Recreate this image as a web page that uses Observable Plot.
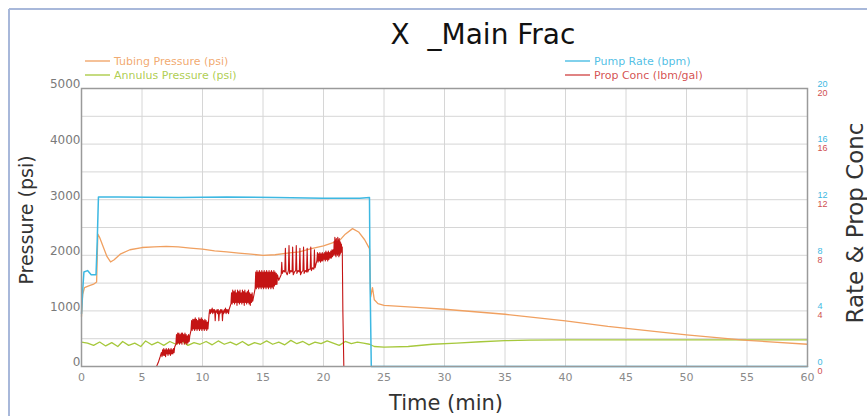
<!DOCTYPE html>
<html>
<head>
<meta charset="utf-8">
<script src="https://cdn.jsdelivr.net/npm/d3@7"></script>
<script src="https://cdn.jsdelivr.net/npm/@observablehq/plot@0.6"></script>
<style>
  html, body { margin: 0; padding: 0; background: #fff; }
  #chart { width: 867px; height: 416px; overflow: hidden; }
</style>
</head>
<body>
<div id="chart"></div>
<script>
// ---- data (time in minutes) ----
const xTicks = [0, 5, 10, 15, 20, 25, 30, 35, 40, 45, 50, 55, 60];
const yTicks = [0, 1000, 2000, 3000, 4000, 5000];
const yGrid = [0, 500, 1000, 1500, 2000, 2500, 3000, 3500, 4000, 4500, 5000];
const rTicks = [0, 4, 8, 12, 16, 20];

// Tubing Pressure (psi)
const tubing = [[0,900],[0.1,1300],[0.25,1420],[0.6,1450],[1.0,1480],[1.25,1520],[1.35,2380],[1.5,2320],[1.8,2150],[2.1,1980],[2.4,1880],[2.7,1920],[3.2,2020],[4,2100],[5,2140],[6,2150],[7,2160],[8,2150],[9,2130],[10,2110],[11,2080],[12,2060],[13,2040],[14,2020],[15,2000],[16,2010],[17,2040],[18,2060],[19,2120],[20,2170],[20.8,2230],[21.3,2260],[21.8,2380],[22.4,2480],[22.9,2420],[23.4,2280],[23.8,2120],[23.9,1250],[24.05,1420],[24.2,1200],[24.5,1130],[25,1100],[28,1060],[30,1030],[35,940],[40,820],[43.5,720],[50,570],[55,470],[60,400]];

// Annulus Pressure (psi)
const annulus = [[0,440],[0.5,420],[1.0,380],[1.5,440],[2.0,370],[2.5,430],[3.0,360],[3.4,450],[3.9,380],[4.4,420],[4.9,360],[5.3,460],[5.8,390],[6.3,440],[6.8,380],[7.3,450],[7.8,400],[8.3,460],[8.8,380],[9.3,430],[9.8,400],[10.3,450],[10.8,390],[11.3,460],[11.8,400],[12.3,440],[12.8,390],[13.3,450],[13.8,380],[14.3,430],[14.8,400],[15.3,460],[15.8,400],[16.3,440],[16.8,390],[17.3,470],[17.8,410],[18.3,450],[18.8,390],[19.3,440],[19.8,410],[20.3,460],[20.8,420],[21.3,380],[21.8,450],[22.3,410],[22.8,440],[23.3,420],[23.8,400],[24.2,360],[25,350],[27,360],[29,400],[31,420],[33,445],[35,465],[37,475],[40,480],[45,480],[50,480],[55,480],[60,480]];

// Pump Rate (bpm)
const pumpRate = [[0,3.8],[0.1,5.5],[0.2,6.8],[0.5,6.9],[0.8,6.6],[1.2,6.6],[1.3,9],[1.4,12.2],[3,12.2],[8,12.15],[12,12.2],[16,12.15],[20,12.1],[23.0,12.1],[23.8,12.15],[23.85,6],[23.95,0],[30,0],[60,0]];

// Prop Conc (lbm/gal)
const propConc = [[0,0],[6.2,0],[6.35,0.3],[6.5,0.7],
[6.6,1.0],[6.65,0.7],[6.7,1.2],[6.75,0.8],[6.8,1.3],[6.85,0.8],[6.9,1.2],[6.95,0.7],[7.0,1.3],[7.05,0.9],[7.1,1.2],[7.15,0.8],[7.2,1.3],[7.25,0.9],[7.3,1.2],[7.35,0.8],[7.4,1.3],[7.45,0.9],[7.5,1.2],[7.55,0.9],[7.6,1.3],[7.65,1.0],[7.7,1.4],
[7.8,1.6],[7.85,2.3],[7.9,1.6],[7.95,2.4],[8.0,1.7],[8.05,2.4],[8.1,1.6],[8.15,2.3],[8.2,1.7],[8.25,2.4],[8.3,1.6],[8.35,2.4],[8.4,1.8],[8.45,2.3],[8.5,1.6],[8.55,2.4],[8.6,1.7],[8.65,2.3],[8.7,1.6],[8.75,2.2],[8.8,1.7],[8.85,2.3],[8.9,1.8],[8.95,2.2],
[9.05,2.6],[9.1,3.3],[9.15,2.6],[9.2,3.4],[9.25,2.7],[9.3,3.4],[9.35,2.6],[9.4,3.5],[9.45,2.7],[9.5,3.4],[9.55,2.6],[9.6,3.3],[9.65,2.7],[9.7,3.5],[9.75,2.6],[9.8,3.4],[9.85,2.7],[9.9,3.5],[9.95,2.6],[10.0,3.4],[10.05,2.7],[10.1,3.3],[10.15,2.6],[10.2,3.4],[10.25,2.7],[10.3,3.3],[10.35,2.6],[10.4,3.2],[10.45,2.7],
[10.55,3.8],[10.6,4.1],[10.65,3.8],[10.7,4.1],[10.75,3.9],[10.8,4.2],[10.85,3.8],[10.9,4.1],[10.95,3.9],[11.0,4.1],[11.05,3.3],[11.1,4.0],[11.15,3.9],[11.2,4.1],[11.25,3.8],[11.3,4.1],[11.35,3.3],[11.4,4.0],[11.45,3.8],[11.5,4.1],[11.55,3.9],[11.6,4.1],[11.65,3.3],[11.7,4.0],[11.75,3.8],[11.8,4.1],[11.85,3.9],[11.9,4.2],[11.95,3.8],[12.0,4.1],[12.05,3.9],[12.1,4.1],[12.15,3.8],[12.2,4.1],
[12.35,4.5],[12.4,5.3],[12.45,4.5],[12.5,5.5],[12.55,4.6],[12.6,5.4],[12.65,4.5],[12.7,5.5],[12.75,4.6],[12.8,5.3],[12.85,4.4],[12.9,5.5],[12.95,4.6],[13.0,5.4],[13.05,4.5],[13.1,5.5],[13.15,4.6],[13.2,5.3],[13.25,4.5],[13.3,5.5],[13.35,4.6],[13.4,5.4],[13.45,4.4],[13.5,5.5],[13.55,4.6],[13.6,5.3],[13.65,4.5],[13.7,5.4],[13.75,4.6],[13.8,5.5],[13.85,4.5],[13.9,5.3],[13.95,4.4],[14.0,5.2],[14.05,4.6],[14.1,5.3],[14.15,4.7],
[14.35,5.6],[14.4,6.8],[14.45,5.6],[14.5,6.9],[14.55,5.7],[14.6,6.8],[14.65,5.6],[14.7,6.9],[14.75,5.7],[14.8,6.8],[14.85,5.6],[14.9,6.9],[14.95,5.7],[15.0,6.8],[15.05,5.6],[15.1,6.9],[15.15,5.7],[15.2,6.8],[15.25,5.6],[15.3,6.9],[15.35,5.7],[15.4,6.8],[15.45,5.6],[15.5,6.9],[15.55,5.7],[15.6,6.8],[15.65,5.6],[15.7,6.9],[15.75,5.7],[15.8,6.8],[15.85,5.6],[15.9,6.9],[15.95,5.8],[16.0,6.8],[16.05,5.9],[16.1,6.7],[16.15,5.9],[16.2,6.6],[16.3,6.2],[16.4,6.4],
[16.5,6.6],[16.55,7.5],[16.6,6.7],[16.7,6.9],[16.8,6.8],[16.85,8.5],[16.9,6.8],[17.0,6.6],[17.1,6.9],[17.15,8.7],[17.2,6.7],[17.3,6.9],[17.4,6.8],[17.45,8.6],[17.5,6.6],[17.6,6.8],[17.7,6.9],[17.75,8.7],[17.8,6.7],[17.9,6.9],[18.0,6.8],[18.05,8.5],[18.1,6.6],[18.2,6.8],[18.3,6.9],[18.35,8.6],[18.4,6.7],[18.5,6.9],[18.6,6.8],[18.65,8.5],[18.7,6.8],[18.8,7.0],[18.9,7.0],[18.95,8.6],[19.0,6.9],[19.1,7.1],[19.2,7.0],[19.25,8.4],[19.3,7.1],
[19.45,7.6],[19.5,8.2],[19.55,7.5],[19.6,8.1],[19.65,7.6],[19.7,8.2],[19.75,7.5],[19.8,8.1],[19.85,7.6],[19.9,8.2],[19.95,7.6],[20.0,8.1],[20.05,7.7],[20.1,8.2],[20.15,7.6],[20.2,8.3],[20.25,7.7],[20.3,8.2],[20.35,7.6],[20.4,8.3],[20.45,7.7],[20.5,8.2],[20.55,7.8],[20.6,8.3],[20.65,7.8],[20.7,8.4],[20.75,7.9],[20.8,8.4],
[20.85,8.0],[20.88,9.0],[20.91,8.1],[20.94,9.3],[20.97,8.0],[21.0,9.1],[21.03,7.9],[21.06,9.2],[21.09,8.1],[21.12,9.0],[21.15,8.0],[21.18,9.3],[21.21,8.1],[21.24,9.1],[21.27,7.9],[21.3,9.2],[21.33,8.0],[21.36,9.0],[21.39,8.1],[21.42,8.9],[21.45,8.2],[21.48,8.8],[21.51,8.3],[21.55,8.6],[21.6,4],[21.68,0],[30,0],[60,0]];

const RATE_SCALE = 250; // 20 units on right axis == 5000 psi

const C_TUB = "#f0a060", C_ANN = "#a6c83c", C_RATE = "#3db8e2", C_PROP = "#c41414";

const chart = Plot.plot({
  width: 867,
  height: 416,
  marginTop: 88,
  marginBottom: 50,
  marginLeft: 81,
  marginRight: 60,
  x: {domain: [0, 60]},
  y: {domain: [0, 5000]},
  style: {fontFamily: "DejaVu Sans", background: "white", overflow: "visible"},
  marks: [
    Plot.gridX(xTicks, {stroke: "#d6d6d6", strokeOpacity: 1}),
    Plot.gridY(yGrid, {stroke: "#d6d6d6", strokeOpacity: 1}),
    Plot.axisX(xTicks, {tickSize: 0, tickPadding: 7, fontSize: 11, color: "#8a8a8a", tickFormat: d => String(d), label: null}),
    Plot.axisY(yTicks, {anchor: "left", tickSize: 0, tickPadding: 1, dy: -4, fontSize: 12, color: "#7a7a7a", tickFormat: d => String(d), label: null}),
    Plot.axisY(rTicks.map(d => d * RATE_SCALE), {anchor: "right", tickSize: 0, tickPadding: 10, dy: -4.5, fontSize: 9, fontFamily: "Liberation Sans", color: C_RATE, tickFormat: d => String(d / RATE_SCALE), label: null}),
    Plot.axisY(rTicks.map(d => d * RATE_SCALE), {anchor: "right", tickSize: 0, tickPadding: 10, dy: 4.5, fontSize: 9, fontFamily: "Liberation Sans", color: "#d05050", tickFormat: d => String(d / RATE_SCALE), label: null}),
    Plot.line(annulus, {x: d => d[0], y: d => d[1], stroke: C_ANN, strokeWidth: 1.3}),
    Plot.line(tubing, {x: d => d[0], y: d => d[1], stroke: C_TUB, strokeWidth: 1.3}),
    Plot.line(pumpRate, {x: d => d[0], y: d => d[1] * RATE_SCALE, stroke: C_RATE, strokeWidth: 1.5}),
    Plot.line(propConc, {x: d => d[0], y: d => d[1] * RATE_SCALE, stroke: C_PROP, strokeWidth: 1.1}),
    Plot.frame({stroke: "#9a9a9a", strokeWidth: 1.5})
  ]
});

document.getElementById("chart").appendChild(chart);

const svg = d3.select(chart);
// outer light-blue border (left & top)
svg.append("line").attr("x1", 9).attr("y1", 9).attr("x2", 9).attr("y2", 416).attr("stroke", "#a8b8da").attr("stroke-width", 2);
svg.append("line").attr("x1", 9).attr("y1", 9).attr("x2", 867).attr("y2", 9).attr("stroke", "#a8b8da").attr("stroke-width", 2);

// title
svg.append("text").attr("x", 483).attr("y", 44).attr("text-anchor", "middle")
  .attr("font-family", "DejaVu Sans").attr("font-size", 28).attr("fill", "#111")
  .style("white-space", "pre").text("X  _Main Frac");

// legends
const legend = [
  {x: 85, y: 61, c: C_TUB, t: "Tubing Pressure (psi)"},
  {x: 85, y: 75, c: C_ANN, t: "Annulus Pressure (psi)"},
  {x: 565, y: 61, c: C_RATE, t: "Pump Rate (bpm)"},
  {x: 565, y: 75, c: "#d04040", t: "Prop Conc (lbm/gal)"}
];
for (const l of legend) {
  svg.append("line").attr("x1", l.x).attr("x2", l.x + 25).attr("y1", l.y).attr("y2", l.y)
    .attr("stroke", l.c).attr("stroke-width", 1.3);
  svg.append("text").attr("x", l.x + 29).attr("y", l.y + 4).attr("text-anchor", "start")
    .attr("font-family", "DejaVu Sans").attr("font-size", 11).attr("fill", l.c).attr("fill-opacity", 0.9).text(l.t);
}

// axis titles
svg.append("text").attr("transform", "translate(33,220) rotate(-90)").attr("text-anchor", "middle")
  .attr("font-family", "DejaVu Sans").attr("font-size", 19).attr("fill", "#333").text("Pressure (psi)");
svg.append("text").attr("transform", "translate(863,223) rotate(-90)").attr("text-anchor", "middle")
  .attr("font-family", "DejaVu Sans").attr("font-size", 23).attr("fill", "#333").text("Rate & Prop Conc");
svg.append("text").attr("x", 446).attr("y", 410).attr("text-anchor", "middle")
  .attr("font-family", "DejaVu Sans").attr("font-size", 21).attr("fill", "#333").text("Time (min)");
</script>
</body>
</html>
